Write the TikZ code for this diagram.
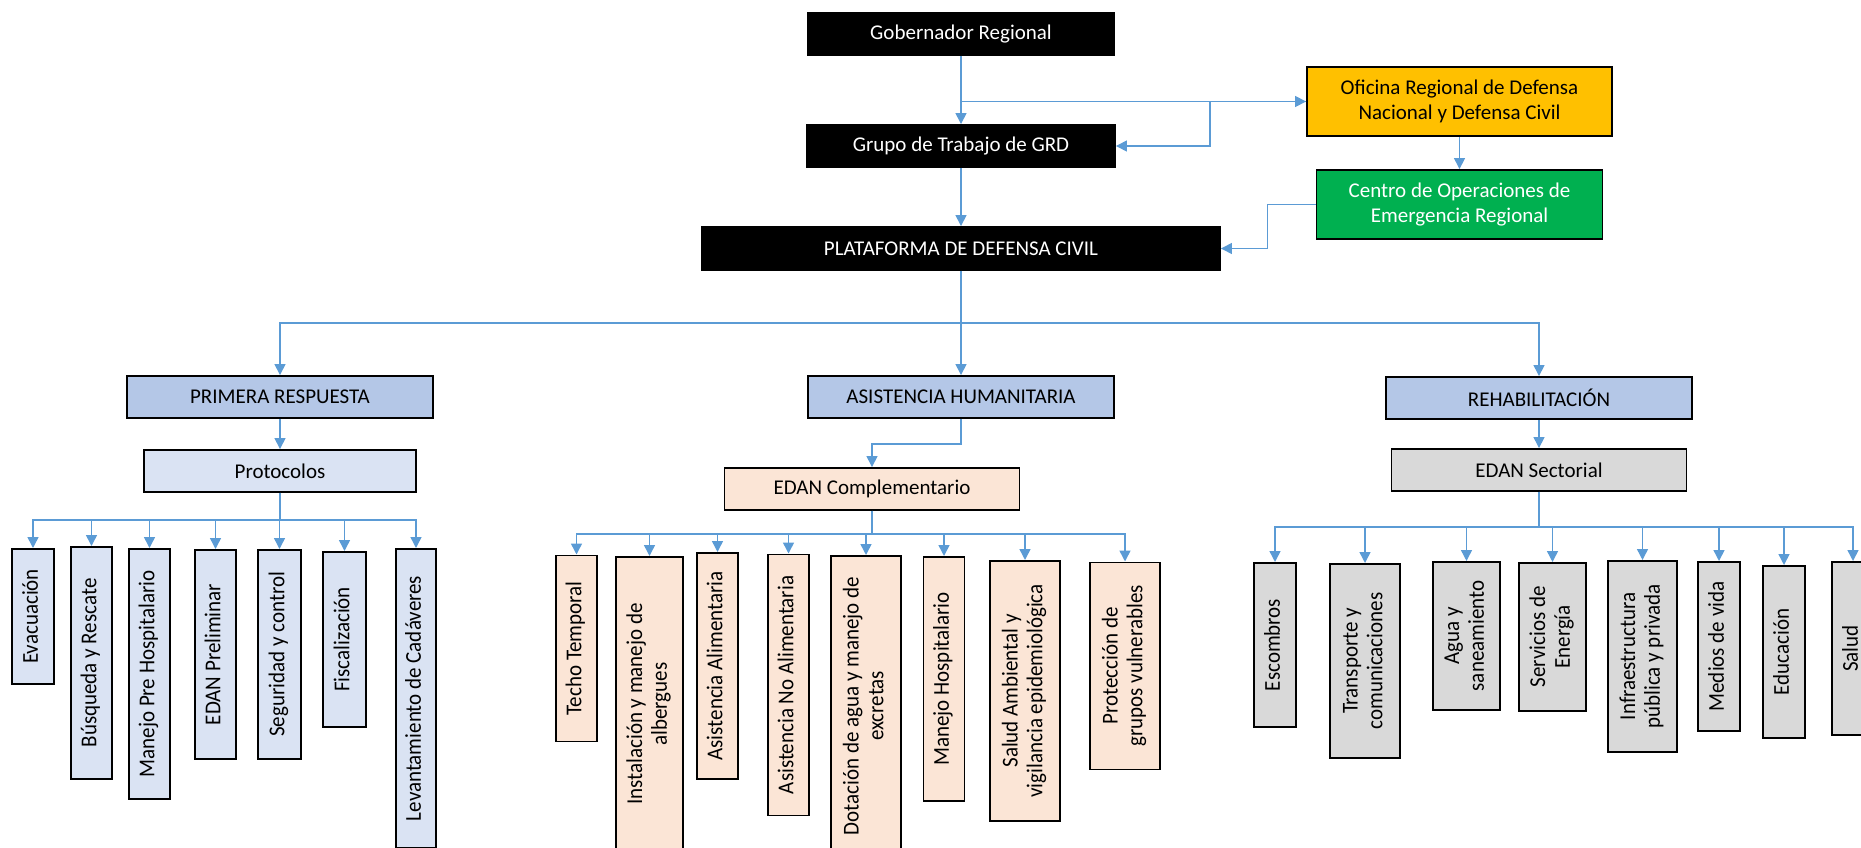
\documentclass[tikz,border=0pt]{standalone}
\usepackage{fontspec}
\setmainfont{Carlito}
\usepackage{graphicx}
\usetikzlibrary{arrows.meta}
\definecolor{cblue}{HTML}{5B9BD5}
\definecolor{lvtwo}{HTML}{B4C7E7}
\definecolor{lblue}{HTML}{DAE3F3}
\definecolor{lpeach}{HTML}{FBE5D6}
\definecolor{lgray}{HTML}{D9D9D9}
\definecolor{ogold}{HTML}{FFC000}
\definecolor{ogreen}{HTML}{00B050}
\newcommand{\vtxt}[1]{\rotatebox{90}{\scalebox{1}[1.08]{\fontsize{21}{23}\selectfont\begin{tabular}{@{}c@{}}#1\end{tabular}}}}
\begin{document}
\begin{tikzpicture}[x=1pt,y=-1pt,
  box/.style={draw=black, line width=1.9pt, inner sep=0pt, font=\fontsize{21}{25}\selectfont, align=center},
  blk/.style={box, fill=black, text=white},
  lvl/.style={box, fill=lvtwo, minimum width=306pt, minimum height=42pt},
  vb/.style={box, anchor=north},
  conn/.style={draw=cblue, line width=1.5pt, -{Triangle[length=11pt,width=11pt]}}
]
\useasboundingbox (0,0) rectangle (1861,848);
\clip (0,0) rectangle (1861,848);

% top
\node[blk, minimum width=306pt, minimum height=42pt] (gob) at (961,34) {Gobernador Regional};
\node[blk, minimum width=308pt, minimum height=42pt] (grupo) at (961,146) {Grupo de Trabajo de GRD};
\node[box, fill=ogold, minimum width=305pt, minimum height=69pt] (ofi) at (1459.5,101.5) {Oficina Regional de Defensa\\Nacional y Defensa Civil};
\node[box, fill=ogreen, text=white, minimum width=286pt, minimum height=69pt] (cen) at (1459.5,204.5) {Centro de Operaciones de\\Emergencia Regional};
\node[blk, minimum width=518pt, minimum height=43pt] (plat) at (961,248.5) {PLATAFORMA DE DEFENSA CIVIL};

% level 2
\node[lvl] (pri) at (280,397) {PRIMERA RESPUESTA};
\node[lvl] (asis) at (961,397) {ASISTENCIA HUMANITARIA};
\node[lvl] (reh) at (1539,398) {REHABILITACIÓN};

% level 3
\node[box, fill=lblue, minimum width=272pt, minimum height=42pt] (proto) at (280,471) {Protocolos};
\node[box, fill=lpeach, minimum width=295pt, minimum height=42pt] (edc) at (872,489) {EDAN Complementario};
\node[box, fill=lgray, minimum width=295pt, minimum height=42pt] (eds) at (1539,470) {EDAN Sectorial};

% Primera respuesta children
\node[vb, fill=lblue, minimum width=42pt, minimum height=135pt] (p1) at (33,548) {\vtxt{Evacuación}};
\node[vb, fill=lblue, minimum width=41pt, minimum height=232pt] (p2) at (91.5,546) {\vtxt{Búsqueda y Rescate}};
\node[vb, fill=lblue, minimum width=41pt, minimum height=250pt] (p3) at (149.5,548) {\vtxt{Manejo Pre Hospitalario}};
\node[vb, fill=lblue, minimum width=41pt, minimum height=209pt] (p4) at (215.5,549) {\vtxt{EDAN Preliminar}};
\node[vb, fill=lblue, minimum width=43pt, minimum height=209pt] (p5) at (279.5,549) {\vtxt{Seguridad y control}};
\node[vb, fill=lblue, minimum width=43pt, minimum height=175pt] (p6) at (344.5,551) {\vtxt{Fiscalización}};
\node[vb, fill=lblue, minimum width=40pt, minimum height=299pt] (p7) at (416,548) {\vtxt{Levantamiento de Cadáveres}};

% Asistencia children
\node[vb, fill=lpeach, minimum width=41pt, minimum height=186pt] (a1) at (576.5,554.5) {\vtxt{Techo Temporal}};
\node[vb, fill=lpeach, minimum width=67pt, minimum height=294pt] (a2) at (649.5,556) {\vtxt{Instalación y manejo de\\albergues}};
\node[vb, fill=lpeach, minimum width=41pt, minimum height=226pt] (a3) at (717.5,552) {\vtxt{Asistencia Alimentaria}};
\node[vb, fill=lpeach, minimum width=41pt, minimum height=261pt] (a4) at (788.5,553.5) {\vtxt{Asistencia No Alimentaria}};
\node[vb, fill=lpeach, minimum width=70pt, minimum height=300pt] (a5) at (866,555) {\vtxt{Dotación de agua y manejo de\\excretas}};
\node[vb, fill=lpeach, minimum width=41pt, minimum height=244pt] (a6) at (944,556) {\vtxt{Manejo Hospitalario}};
\node[vb, fill=lpeach, minimum width=70pt, minimum height=260pt] (a7) at (1025,560) {\vtxt{Salud Ambiental y\\vigilancia epidemiológica}};
\node[vb, fill=lpeach, minimum width=70pt, minimum height=207pt] (a8) at (1125,561.5) {\vtxt{Protección de\\grupos vulnerables}};

% Rehabilitacion children
\node[vb, fill=lgray, minimum width=42pt, minimum height=164pt] (r1) at (1275,562) {\vtxt{Escombros}};
\node[vb, fill=lgray, minimum width=70pt, minimum height=194pt] (r2) at (1365,563) {\vtxt{Transporte y\\comunicaciones}};
\node[vb, fill=lgray, minimum width=67pt, minimum height=148pt] (r3) at (1466.5,561) {\vtxt{Agua y\\saneamiento}};
\node[vb, fill=lgray, minimum width=67pt, minimum height=148pt] (r4) at (1552.5,562) {\vtxt{Servicios de\\Energía}};
\node[vb, fill=lgray, minimum width=69pt, minimum height=191pt] (r5) at (1642.5,560) {\vtxt{Infraestructura\\pública y privada}};
\node[vb, fill=lgray, minimum width=42pt, minimum height=169pt] (r6) at (1719,561) {\vtxt{Medios de vida}};
\node[vb, fill=lgray, minimum width=42pt, minimum height=172pt] (r7) at (1784,565) {\vtxt{Educación}};
\node[vb, fill=lgray, minimum width=42pt, minimum height=173pt] (r8) at (1853,561) {\vtxt{Salud}};

% connectors top
\draw[conn] (gob.south) -- (grupo.north);
\draw[conn] (gob.south) |- (ofi.west);
\draw[conn] (ofi.west) -- ++(-96,0) |- (grupo.east);
\draw[conn] (ofi.south) -- (cen.north);
\draw[conn] (cen.west) -- ++(-48,0) |- (plat.east);
\draw[conn] (grupo.south) -- (plat.north);

% to level 2
\coordinate (hub) at (961,323);
\draw[conn] (plat.south) -- (hub) -| (pri.north);
\draw[conn] (plat.south) -- (asis.north);
\draw[conn] (plat.south) -- (hub) -| (reh.north);

% to level 3
\draw[conn] (pri.south) -- (proto.north);
\draw[conn] (asis.south) -- ++(0,25) -| (edc.north);
\draw[conn] (reh.south) -- (eds.north);

% to level 4
\coordinate (pbus) at (280,520);
\foreach \c in {p1,p2,p3,p4,p5,p6,p7} \draw[conn] (proto.south) -- (pbus) -| (\c.north);
\coordinate (abus) at (872,534);
\foreach \c in {a1,a2,a3,a4,a5,a6,a7,a8} \draw[conn] (edc.south) -- (abus) -| (\c.north);
\coordinate (rbus) at (1539,527);
\foreach \c in {r1,r2,r3,r4,r5,r6,r7,r8} \draw[conn] (eds.south) -- (rbus) -| (\c.north);
\end{tikzpicture}
\end{document}
